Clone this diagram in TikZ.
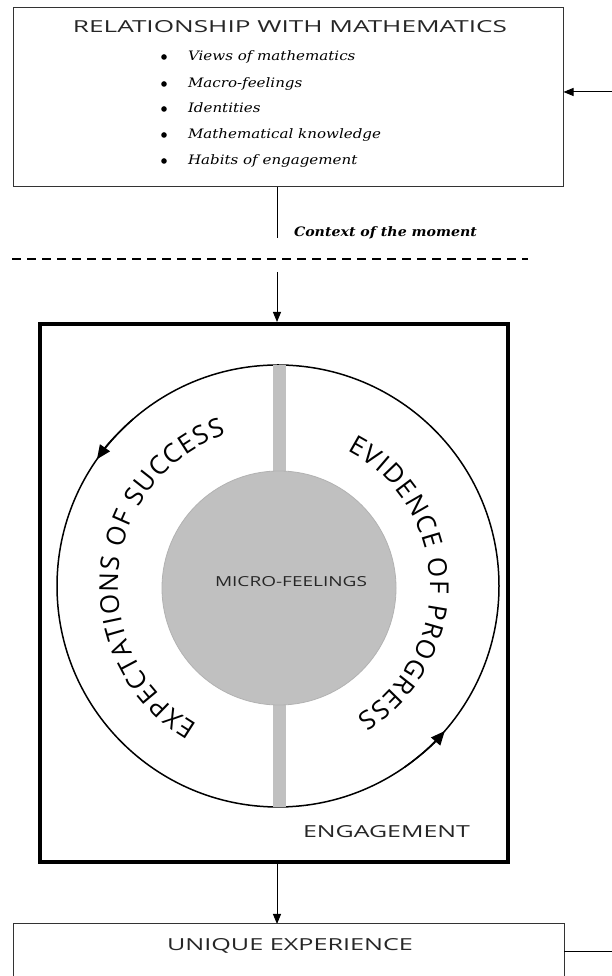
\documentclass[tikz,border=0pt]{standalone}
\usepackage{fontspec}
\usepackage{graphicx}
\newfontfamily\capsfont{Open Sans}
\newfontfamily\handfont{DejaVu Serif}
\usetikzlibrary{arrows.meta,decorations.text,calc}
\definecolor{diskgray}{HTML}{C0C0C0}
\definecolor{diskedge}{HTML}{B2B2B2}
\newcommand\arcfont{\capsfont\fontsize{26}{26}\selectfont}
\newcommand\capsbox[3]{\resizebox{#1}{#2}{\capsfont #3}}
\newcommand\itemfont{\handfont\itshape\fontsize{13}{16}\selectfont}
\newlength\itemwd
\begin{document}
\settowidth\itemwd{\itemfont Mathematical knowledge}
\pgfmathsetmacro\itemsx{193/\the\itemwd}
\newcommand\itm[1]{\scalebox{\itemsx}[1]{\itemfont #1}}
\begin{tikzpicture}[x=1pt,y=1pt,
  thinbox/.style={draw=black!80, line width=1pt},
  conn/.style={line width=1pt, draw=black},
  arr/.style={conn, -{Triangle[length=10pt,width=8pt]}},
  circarr/.style={line width=1.5pt, -{Triangle[length=14pt,width=12pt]}},
  lbl/.style={inner sep=0pt, outer sep=0pt},
  arctext/.style={decorate, decoration={text along path, text align=fit to path, text={|\arcfont|#1}}}
]
\useasboundingbox (0,0) rectangle (612,976);
\fill[white] (0,0) rectangle (612,976);

% top box
\node[thinbox, minimum width=550pt, minimum height=179pt, inner sep=0pt] (rel) at (288,878.5) {};
\node[lbl, anchor=base, text=black!85] (title) at (290,943) {\capsbox{434pt}{12pt}{RELATIONSHIP WITH MATHEMATICS}};
\foreach \yy/\t [count=\i] in {915/Views of mathematics, 888/Macro-feelings, 863/Identities, 837/Mathematical knowledge, 811/Habits of engagement} {
  \fill (164,\yy+4) circle[radius=2.8];
  \node[lbl, anchor=base west] (item\i) at (188,\yy) {\itm{\t}};
}
\coordinate (rin) at (612,884);
\draw[arr] (rin) -- (rin -| rel.east);

% context
\coordinate (ctx) at (277,738);
\draw[conn] (ctx |- rel.south) -- (ctx);
\node[lbl, anchor=base west] (ctxl) at (294,739) {\resizebox{183pt}{\height}{\handfont\bfseries\itshape\fontsize{13}{16}\selectfont Context of the moment}};
\coordinate (dl) at (12,717);
\coordinate (dr) at (528,717);
\draw[line width=1.3pt, dash pattern=on 9pt off 6pt] (dl) -- (dr);

% engagement box
\node[draw, line width=4pt, minimum width=468pt, minimum height=538pt, inner sep=0pt] (eng) at (274,383) {};
\coordinate (ain) at (277,704);
\draw[arr] (ain) -- (ain |- eng.north);

% cycle
\coordinate (c) at (278,390);
\draw[line width=1.5pt] (c) circle[radius=221];
\fill[diskgray] (273,169) rectangle (286,611);
\node[circle, fill=diskgray, draw=diskedge, line width=0.8pt, minimum size=234pt, inner sep=0pt] (micro) at (279,388) {};
\node[lbl, anchor=base west, text=black!85] (microl) at (215,389) {\capsbox{152pt}{10pt}{MICRO-FEELINGS}};
\draw[circarr] (c) ++(131:221) arc[start angle=131, end angle=145, radius=221];
\draw[circarr] (c) ++(-55:221) arc[start angle=-55, end angle=-41, radius=221];
\path[arctext={EXPECTATIONS OF SUCCESS}] (c) ++(240:160) arc[start angle=240, end angle=109, radius=160];
\path[arctext={EVIDENCE OF PROGRESS}] (c) ++(63:152) arc[start angle=63, end angle=-59, radius=152];
\node[lbl, anchor=base west, text=black!85] (engl) at (303,138) {\capsbox{167pt}{12pt}{ENGAGEMENT}};

% unique experience
\coordinate (uin) at (277,52);
\draw[arr] (eng.south -| uin) -- (uin);
\draw[thinbox] (13,-3) -- (13,52) -- (564,52) -- (564,-3);
\node[lbl, anchor=base west, text=black!85] (uex) at (167,25) {\capsbox{246pt}{12pt}{UNIQUE EXPERIENCE}};
\coordinate (uo1) at (564,24);
\coordinate (uo2) at (612,24);
\draw[conn] (uo1) -- (uo2);
\end{tikzpicture}
\end{document}
